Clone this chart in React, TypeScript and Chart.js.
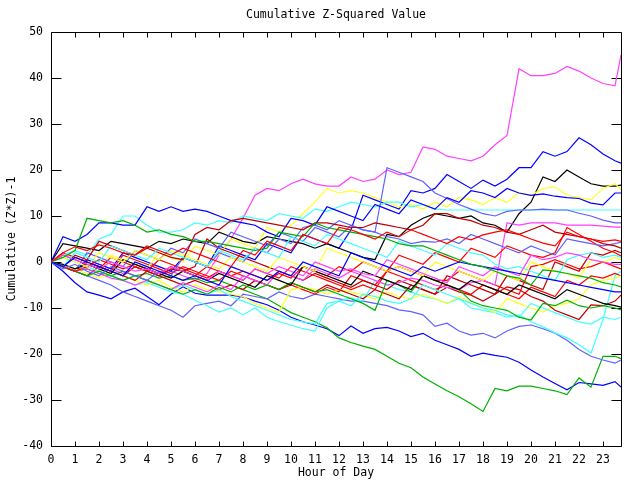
import React, { useEffect, useRef } from "react";
import { Chart, registerables } from "chart.js";

Chart.register(...registerables);

const titleText = "Cumulative Z-Squared Value";
const xTitle = "Hour of Day";
const yTitle = "Cumulative (Z*Z)-1";

const hours = [
  0, 0.5, 1, 1.5, 2, 2.5, 3, 3.5, 4, 4.5, 5, 5.5,
  6, 6.5, 7, 7.5, 8, 8.5, 9, 9.5, 10, 10.5, 11, 11.5,
  12, 12.5, 13, 13.5, 14, 14.5, 15, 15.5, 16, 16.5, 17, 17.5,
  18, 18.5, 19, 19.5, 20, 20.5, 21, 21.5, 22, 22.5, 23, 23.5,
  23.75,
];
const xTicks = [0, 1, 2, 3, 4, 5, 6, 7, 8, 9, 10, 11, 12, 13, 14, 15, 16, 17, 18, 19, 20, 21, 22, 23];
const yTicks = [-40, -30, -20, -10, 0, 10, 20, 30, 40, 50];

const RED = "#ff0000";
const GREEN = "#00b000";
const BLUE = "#0000ff";
const MAGENTA = "#ff40ff";
const CYAN = "#40ffff";
const DARKRED = "#c00000";
const YELLOW = "#ffff20";
const PERI = "#6060ff";
const BLACK = "#000000";

const m1 = [
  0, -0.8, -1.8, 0.5, -0.5, -1.5, -2.5, -1, -2, -3, -2, -3,
  -4, -2.5, 1.5, 5, 9.5, 14.5, 16, 15.5, 17, 18, 17, 16.5,
  16.5, 18.5, 17.5, 18, 20, 19, 19.5, 25, 24.5, 23, 22.5, 22,
  23, 25.5, 27.5, 42, 40.5, 40.5, 41, 42.5, 41.5, 40, 38.8, 38.3,
  45,
];
const b1 = [
  0, -1, -2, 0.5, -0.5, -1.5, 2, 1, 0, -1, -2, 1,
  0, -1, 3.5, 2.5, 1.5, 0.5, 4, 3, 2, 6, 5, 4,
  3, 7, 14.5, 13.5, 12.5, 11.5, 15.5, 15, 16, 19, 17.5, 16,
  17.8, 16.5, 18, 20.5, 20.5, 24, 23, 24, 27, 25.5, 23.5, 22,
  21.5,
];
const k1 = [
  0, 4, 3.5, 3, 2.5, 4.5, 4, 3.5, 3, 4.5, 4, 5,
  4.5, 4, 6.5, 5.5, 4.5, 4, 5.5, 5, 4.5, 4, 3, 4,
  3, 2, 1, 0.5, 6, 5.5, 8, 9.5, 10.5, 10, 9.5, 10,
  8.5, 8, 6.5, 10.5, 13, 18.5, 17.5, 20, 18.5, 17, 16.5, 16.5,
  16.7,
];
const y1 = [
  0, -1, -2, -1, -2, 1.5, 0.5, -0.5, -1.5, 2, 1, 0,
  3.5, 2.5, 1.5, 5, 4, 3, 7.5, 6.5, 8, 10.5, 13, 16,
  15, 15.5, 15, 14, 13, 12, 12.5, 11.5, 13, 12, 14, 13.5,
  12.5, 14, 13, 15, 14.5, 16, 16.3, 14.5, 14, 13.5, 16, 17,
  15.8,
];
const b4 = [
  0, 5.5, 4.5, 6, 8.5, 8.5, 8, 8, 12, 11, 12, 11,
  11.5, 11, 10, 9, 8.5, 8, 6.5, 5.5, 9.5, 9, 8, 12,
  11, 10, 9, 12.5, 11.5, 10.5, 13.5, 12.5, 11.5, 14, 13, 15.5,
  15, 14, 16, 15, 14.5, 14.8, 14.3, 14, 13.8, 12.8, 12.4, 15,
  15,
];
const c3 = [
  0, 1.5, 2.5, 1.5, 5, 6, 10, 10, 8, 6.5, 6.5, 7,
  8.5, 8, 9, 8.5, 10, 9.5, 9, 10.5, 10, 9.5, 11.5, 11,
  12, 13, 12.5, 12, 13, 13, 12, 12.5, 11.5, 11.3, 11.3, 11.3,
  11.3, 11.3, 11.3, 11.3, 11.3, 11.3, 11.3, 11.3, 11.3, 11.3, 11.3, 11.3,
  11.3,
];
const p2 = [
  0, -1, -2, 2, 1, 0, -1, 2.5, 1.5, 0.5, 3, 2,
  5, 4, 3, 6.5, 5.5, 4.5, 3.5, 6.5, 5.5, 4.5, 7.5, 6.5,
  5.5, 8, 7, 6.5, 20.5, 19.5, 18.5, 17.5, 15, 13.8, 12.5, 11.5,
  10.5, 10, 11, 11.3, 11.3, 11.5, 11.3, 11.3, 10.6, 10, 9.1, 8.5,
  8.5,
];
const m2 = [
  0, -1, -2, -1.5, -2.5, -3.5, -4, -5, -4, -5, -6, -4.5,
  -5.5, -6.5, -5, -6, -3, -4, -5, -2, -3, -4, -1.5, -2.5,
  -3.5, -2, -3, -4, -5, -4.5, -3.5, -4, -5, -5.5, -6, -4.5,
  -4, -5, 8.5, 8, 8.5, 8.5, 8.5, 8, 8, 8, 7.8, 7.6,
  7.6,
];
const r1 = [
  0, 2, 3.3, 2.5, 3.7, 3, 2, 1.5, 3.5, 2.5, 1.5, 3,
  2, 1, 0, -1, 2.5, 1.5, 4.5, 3.5, 2.5, 6, 5, 4,
  7.5, 7, 6, 5, 6.5, 5.5, 7, 6, 5, 4, 5.5, 4.8,
  5.9, 6.5, 7, 6, 5, 4.1, 3.5, 6.5, 5.5, 5, 4.5, 4.8,
  4.5,
];
const dr1 = [
  0, -1, 1.5, 0.5, 4.5, 3.5, 2.5, 1.5, 3, 2, 1, 0.5,
  6, 7.5, 7, 9, 9.5, 9, 8.5, 8, 7.5, 7, 8.5, 8.5,
  8, 7.5, 7.5, 8.5, 8, 7.5, 7, 8, 10.5, 10.5, 9.5, 9,
  8, 7.5, 6.5, 6, 7, 8, 6.5, 6, 5.5, 5, 4, 3.5,
  3,
];
const r2 = [
  0, -1, -2, -1, 0.5, -0.5, -1.5, -0.5, -1.5, -2.5, -1, -2,
  -3, -1, -2, -3, -2, -3, -4, -2.5, -3.5, -1, -2, -3,
  -1, -2, 0, -1, -2, 1.5, 0.5, -0.5, 2, 1, 0, 3,
  2, 1, 3.5, 2.5, 1.5, 1, 2, 7.5, 6, 4.5, 3, 2,
  1.3,
];
const p3 = [
  0, -1.5, -0.5, -2, -3, -1, -2, -3, -4, -2, -3, 1,
  0, -1, 2, 1, 0, 3, 2, 5, 4, 7.5, 8, 7,
  9, 8, 7, 6.5, 5.5, 5, 4, 4.5, 4.3, 5, 4, 6,
  5, 4, 3, 2, 3.5, 2.5, 1.5, 5, 4.5, 4, 3.5, 4,
  4.3,
];
const r3 = [
  0, 1.5, 0.5, -0.5, -1.5, 1, 0, -1, -2, 0.5, -0.5, -1.5,
  -2.5, -3.5, -2, -3, -4, -1.5, -2.5, -3.5, -1, -2, -3, -4,
  -5, -6, -5, -6, -2, -1, -2, -3, -4, -4, -2, -3,
  -4, -5, -6, -7, -1, -0.5, 0.5, -0.5, -1.5, -1, 0, -1,
  -1.5,
];
const dr2 = [
  0, -1, -2, -3, -1, -2, -3, -4, -2, -3, -4, -5,
  -4, -5, -6, -5, -6, -4, -5, -6, -4.5, -5.5, -6.5, -5,
  -6, -7, -8, -6, -7, -8, -5, -6, -7, -5.5, -6.5, -7.2,
  -8.5, -7, -5.4, -6, -7.5, -8.5, -10.5, -11.5, -12.5, -9.3, -9.5, -8.5,
  -7.2,
];
const y3 = [
  0, -1, -1.5, -2.5, -3.5, -2, -3, -4, -5, -4, -5.5, -6.5,
  -5, -6, -6.5, -7, -7.5, -9, -10, -11, -6, -5.5, -6, -7,
  -6, -6.5, -7.2, -8, -6.5, -7.5, -8, -7, -8, -9, -7.5, -8.9,
  -10, -11, -8, -9, -10, -10.9, -9.5, -9, -8, -5, -4, -3.5,
  -3,
];
const c1 = [
  0, -1, -2, -3, -2, -3, -4, -5, -4.5, -5.5, -6.5, -7,
  -8.3, -9.5, -10.9, -10, -11.5, -10, -12, -13, -13.7, -14.5, -15, -10,
  -8.5, -7.8, -8.5, -4, -5, -6, -6.5, -7.5, -8, -9, -8, -10,
  -10.5, -11, -12, -11.5, -13, -14.1, -15.4, -16.5, -18, -19.8, -12.5, -3,
  -2,
];
const c2 = [
  0, 1, 0, -1, -2, -3, -4, -3, -4, -5, -6, -5,
  -6, -7, -6, -7.5, -8.5, -9.5, -10.5, -11.5, -12.5, -13, -13.5, -9,
  -8.5, -9.5, -7, -7.5, -8.5, -9, -8, -5, -6, -7, -8, -9,
  -10, -10.5, -11.5, -12, -9, -10, -11, -12, -13, -13.5, -12, -12.5,
  -12,
];
const g2 = [
  0, 1, 2.5, 9.5, 9, 8.5, 9, 8, 6.5, 7, 6, 5.5,
  4.5, 4.5, 4, 3.5, 3, 2.5, 3, 6.5, 6, 5.5, 8.5, 7.5,
  7, 6.5, 6, 5.5, 5, 4, 3.5, 3.5, 2.5, 1.5, 0.5, -0.5,
  -1, -2, -3, -3.5, -5, -1.7, -2, -2.5, -3, -3.5, -4.5, -5,
  -5.4,
];
const g3 = [
  0, -1, -2, -3, -2, -3, -4, -3, -4, -5, -6, -7,
  -6, -7, -5.5, -6.5, -5, -6, -5, -6, -4.5, -5.5, -6.5, -6,
  -7, -8, -9, -10.5, -4, -5, -6.5, -3, -4, -5, -6, -8.5,
  -9.5, -10, -10.5, -12, -12.6, -9, -9.5, -8.3, -9.5, -10, -9.5, -10,
  -10.4,
];
const k2 = [
  0, -0.5, -1.5, -0.5, -1.5, -2.5, 0.5, -0.5, -1.5, -2.5, -3.5, -2,
  -3, -4, -2.5, -3.5, -4.5, -5.5, -3, -4, -5, -1, -2, -3,
  -4, -5, -2, -3, -4, -5, -6, -3, -4, -5, -6, -4,
  -5, -6, -7, -5, -6, -7, -8, -6, -7, -8, -9, -9.5,
  -9.8,
];
const p1 = [
  0, -1, -2, -3, -4, -5, -6.5, -7.5, -8.5, -9.5, -10.5, -12,
  -9.5, -9, -8.5, -9.5, -7, -7.5, -8, -6.5, -7.5, -8, -7, -7.5,
  -8, -8.5, -8.5, -9, -9.5, -10.4, -10.8, -11.5, -14, -13.3, -15, -15.9,
  -15.5, -16.5, -15, -14, -13.7, -14.5, -15.5, -17, -19, -20.5, -21.3, -22,
  -21.3,
];
const b2 = [
  0, -2, -4.5, -6.5, -7.2, -8, -6.5, -5.7, -7.5, -9.3, -7, -5.4,
  -6.8, -7.2, -7.2, -7.2, -7.6, -8.5, -9.3, -10.5, -12, -13, -13.7, -14.5,
  -16, -13.9, -15.5, -14.5, -14.2, -15, -16.2, -15.5, -17, -18, -19, -20.5,
  -19.8, -20.3, -20.7, -21.8, -23.5, -25, -26.4, -27.8, -26.2, -26.5, -26.8, -26,
  -27.2,
];
const g1 = [
  0, -1, -2, -1.5, -2.5, -3, -2, -3, -2.5, -3.5, -3, -4,
  -3.5, -4.5, -4, -5, -6, -7, -8, -9.5, -11, -12, -13, -14.3,
  -16.5, -17.5, -18.3, -19, -20.5, -22, -23, -25, -26.5, -28, -29.3, -30.8,
  -32.5, -27.5, -28, -27, -27, -27.5, -28, -28.8, -25.2, -27.2, -20.5, -20.5,
  -21,
];
const m3 = [
  0, 1.5, 0.5, -0.5, -1.5, 0, -1, -2, -1.5, -2.5, -1, -2,
  -3, -4, -2, -3, -4, -1.5, -2.5, -1, -2, -3, 0, -1,
  -2, -1.5, -2.5, -3, 0.5, -0.5, -1.5, -2.5, -3.5, -4.5, -1, -2,
  -3, -1, -2, -3, 1.5, 0.5, 1, 2, 1.5, 0.5, 0, -0.5,
  -0.5,
];
const y4 = [
  0, 1, 0, -1, 2, 1, 0, 2.5, 1.5, 0.5, 2.5, 1.5,
  0.5, -0.5, -1.5, 1, 0, -1, -2, 1, 0, -1, -2, 3,
  2, 1, 0, -1, -2, -1, -2, -3, 0, -1, -2, -3,
  -4, -2, -3, -4, 0, -1, -2, -2.5, -3.5, 0.5, 0, 1,
  0.5,
];
const dr3 = [
  0, -1, -2, 0, -1, -2, -3, -1, -2, -3, -1.5, -2,
  -1, 5, 3, 2, 1, 0, -1, -2, -3, -4, -2.5, -3.5,
  -4.5, -5.5, -4, -5, -6, -4, -5, -6, -7, -3, -4, -5,
  -6, -7, -3, -4, -5, -6, 0, -1, -2, 2, 1.5, 2.5,
  2,
];
const r4 = [
  0, 2, 1, 0, -1, -2, 1.5, 0.5, -0.5, -1.5, -2.5, -1,
  -2, -3, -4, -2, -3, -4, -5, -6, -5, -6, -7, -5.5,
  -6.5, -3, -4, -5, -2, -3, -4, -5, -6, -5, -6, -7,
  -5, -6, -7, -8, -5.5, -6.5, -7.5, -4, -5, -3, -3.5, -2.5,
  -3,
];
const c5 = [
  0, -1, 2, 1, 0, 3.5, 2.5, 1.5, 0.5, 3, 2, 1,
  0, -1, 2.5, 1.5, 0.5, 3, 2, 1, 5.5, 4.5, 3.5, 6,
  5, 4, 3, 2, 1, 4.5, 3.5, 2.5, 1.5, 4, 3, 2,
  1.5, -0.5, -1.5, -1, -2, -3, -4, 0.5, 1.5, 2, 1, 1.5,
  1,
];
const b5 = [
  0, -1, 1, 0, -1, -2, -3, 0, -1, -2, -3, -4,
  -3, -4, -5, -1, -2, -3, -4, -2, -3, 0, -1, -2,
  -3, 2, 1, 0, -1, -2, -3, -1, -2, -1, 0, -0.5,
  -1, -1.5, -2, -2.5, -3, -3.5, -4, -4.5, -5, -5.5, -6, -6.5,
  -6.5,
];

const series = [
  { name: "r1", color: RED, values: r1 },
  { name: "g2", color: GREEN, values: g2 },
  { name: "b5", color: BLUE, values: b5 },
  { name: "m3", color: MAGENTA, values: m3 },
  { name: "c5", color: CYAN, values: c5 },
  { name: "dr1", color: DARKRED, values: dr1 },
  { name: "y4", color: YELLOW, values: y4 },
  { name: "p3", color: PERI, values: p3 },
  { name: "k2", color: BLACK, values: k2 },
  { name: "r2", color: RED, values: r2 },
  { name: "g3", color: GREEN, values: g3 },
  { name: "b4", color: BLUE, values: b4 },
  { name: "m2", color: MAGENTA, values: m2 },
  { name: "c2", color: CYAN, values: c2 },
  { name: "dr2", color: DARKRED, values: dr2 },
  { name: "y3", color: YELLOW, values: y3 },
  { name: "p2", color: PERI, values: p2 },
  { name: "r3", color: RED, values: r3 },
  { name: "c3", color: CYAN, values: c3 },
  { name: "dr3", color: DARKRED, values: dr3 },
  { name: "y1", color: YELLOW, values: y1 },
  { name: "r4", color: RED, values: r4 },
  { name: "c1", color: CYAN, values: c1 },
  { name: "p1", color: PERI, values: p1 },
  { name: "k1", color: BLACK, values: k1 },
  { name: "g1", color: GREEN, values: g1 },
  { name: "b2", color: BLUE, values: b2 },
  { name: "b1", color: BLUE, values: b1 },
  { name: "m1", color: MAGENTA, values: m1 },
];

const FONT_FAMILY = "'DejaVu Sans Mono', 'Liberation Mono', monospace";
const FONT_SIZE = 11.5;
const TICK_LEN = 5;

const framePlugin = {
  id: "gnuFrame",
  beforeDatasetsDraw(chart: any) {
    const { ctx, chartArea, scales } = chart;
    const { left, right, top, bottom } = chartArea;
    const L = Math.round(left) + 0.5;
    const R = Math.round(right) + 0.5;
    const T = Math.round(top) + 0.5;
    const B = Math.round(bottom) + 0.5;
    ctx.save();
    ctx.strokeStyle = "#000";
    ctx.lineWidth = 1;
    ctx.beginPath();
    ctx.moveTo(L, T);
    ctx.lineTo(R, T);
    ctx.lineTo(R, B);
    ctx.lineTo(L, B);
    ctx.closePath();
    for (const v of xTicks) {
      const px = Math.round(scales.x.getPixelForValue(v)) + 0.5;
      ctx.moveTo(px, B);
      ctx.lineTo(px, B - TICK_LEN);
      ctx.moveTo(px, T);
      ctx.lineTo(px, T + TICK_LEN);
    }
    for (const v of yTicks) {
      const py = Math.round(scales.y.getPixelForValue(v)) + 0.5;
      ctx.moveTo(L, py);
      ctx.lineTo(L + TICK_LEN * 2, py);
      ctx.moveTo(R, py);
      ctx.lineTo(R - TICK_LEN * 2, py);
    }
    ctx.stroke();
    ctx.restore();
  },
  afterDraw(chart: any) {
    const { ctx, chartArea } = chart;
    const cx = (chartArea.left + chartArea.right) / 2;
    ctx.save();
    ctx.fillStyle = "#000";
    ctx.font = `${FONT_SIZE}px ${FONT_FAMILY}`;
    ctx.textAlign = "center";
    ctx.textBaseline = "middle";
    ctx.fillText(titleText, cx, 15);
    ctx.fillText(xTitle, cx, 473);
    ctx.translate(12, (chartArea.top + chartArea.bottom) / 2);
    ctx.rotate(-Math.PI / 2);
    ctx.fillText(yTitle, 0, 0);
    ctx.restore();
  },
};

export default function App() {
  const canvasRef = useRef<HTMLCanvasElement | null>(null);

  useEffect(() => {
    const canvas = canvasRef.current;
    if (!canvas) return;
    const datasets = series.map((s) => ({
      label: s.name,
      data: s.values.map((v, i) => ({ x: hours[i], y: v })),
      borderColor: s.color,
      backgroundColor: s.color,
      borderWidth: 1.2,
      pointRadius: 0,
      pointHoverRadius: 0,
      fill: false,
      tension: 0,
    }));
    const font = { family: FONT_FAMILY, size: FONT_SIZE };
    const chart = new Chart(canvas, {
      type: "line",
      data: { datasets },
      plugins: [framePlugin],
      options: {
        responsive: false,
        animation: false,
        events: [],
        layout: { padding: { top: 32, right: 19, left: 0, bottom: 0 } },
        plugins: {
          legend: { display: false },
          tooltip: { enabled: false },
          title: { display: false },
        },
        scales: {
          x: {
            type: "linear",
            min: 0,
            max: 23.75,
            afterBuildTicks: (s: any) => {
              s.ticks = xTicks.map((v) => ({ value: v }));
            },
            afterFit: (s: any) => {
              s.height = 34;
            },
            grid: { display: false, drawTicks: false },
            border: { display: false },
            ticks: {
              autoSkip: false,
              maxRotation: 0,
              minRotation: 0,
              padding: 7,
              color: "#000",
              font,
              callback: (v: any) => String(v),
            },
          },
          y: {
            type: "linear",
            min: -40,
            max: 50,
            afterBuildTicks: (s: any) => {
              s.ticks = yTicks.map((v) => ({ value: v }));
            },
            afterFit: (s: any) => {
              s.width = 51;
            },
            grid: { display: false, drawTicks: false },
            border: { display: false },
            ticks: {
              autoSkip: false,
              padding: 8,
              color: "#000",
              font,
              callback: (v: any) => String(v),
            },
          },
        },
      },
    });
    return () => {
      chart.destroy();
    };
  }, []);

  return (
    <div
      style={{
        position: "absolute",
        left: 0,
        top: 0,
        width: 640,
        height: 480,
        background: "#fff",
      }}
    >
      <canvas ref={canvasRef} width={640} height={480} style={{ display: "block" }} />
    </div>
  );
}
